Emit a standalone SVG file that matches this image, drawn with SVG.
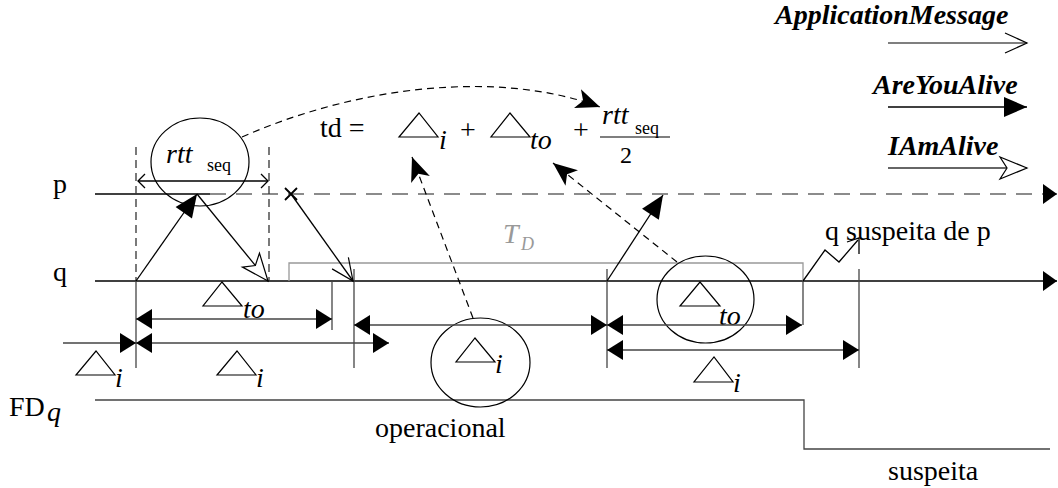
<svg xmlns="http://www.w3.org/2000/svg" width="1058" height="488" viewBox="0 0 1058 488">
<style>
text{font-family:"Liberation Serif","Times New Roman",serif;font-size:28px;fill:#000}
.it{font-style:italic}
.bi{font-style:italic;font-weight:bold}
.sm{font-size:18px}
.gr{fill:#999}
.ln{stroke:#000;stroke-width:1.3;fill:none}
.dim{stroke:#444;stroke-width:1.3;fill:none}
.tri{stroke:#000;stroke-width:1.2;fill:none}
.vd{stroke:#333;stroke-width:1.3;stroke-dasharray:8 5;fill:none}
.da{stroke:#000;stroke-width:1.2;stroke-dasharray:7 5;fill:none}
</style>
<defs>
<marker id="dh" markerUnits="userSpaceOnUse" orient="auto-start-reverse" viewBox="-18 -11 20 22" markerWidth="20" markerHeight="22" refX="0" refY="0"><path d="M0,0 L-16,-10 L-16,10 Z" fill="#000"/></marker>
<marker id="ah" markerUnits="userSpaceOnUse" orient="auto" viewBox="-16 -11 18 22" markerWidth="18" markerHeight="22" refX="0" refY="0"><path d="M0,0 L-14,-10 L-14,10 Z" fill="#000"/></marker>
<marker id="fh" markerUnits="userSpaceOnUse" orient="auto" viewBox="-25 -11 27 22" markerWidth="27" markerHeight="22" refX="0" refY="0"><path d="M0,0 L-23,-10 L-23,10 Z" fill="#000"/></marker>
<marker id="sh" markerUnits="userSpaceOnUse" orient="auto" viewBox="-26 -11 28 22" markerWidth="28" markerHeight="22" refX="0" refY="0"><path d="M0,0 L-24,-10 L-18,0 L-24,10 Z" fill="#000"/></marker>
<marker id="ov" markerUnits="userSpaceOnUse" orient="auto" viewBox="-25 -12 27 24" markerWidth="27" markerHeight="24" refX="0" refY="0"><path d="M-22,-10 L0,0 L-22,10" fill="none" stroke="#000" stroke-width="1.2"/></marker>
<marker id="ot" markerUnits="userSpaceOnUse" orient="auto" viewBox="-30 -13 32 26" markerWidth="32" markerHeight="26" refX="0" refY="0"><path d="M0,0 L-27,-11 L-20,0 L-27,11 Z" fill="#fff" stroke="#000" stroke-width="1.2"/></marker>
</defs>

<g id="legend">
<g id="legend-app">
<text class="bi" x="775" y="24">ApplicationMessage</text>
<line x1="888" y1="43" x2="1027" y2="43" stroke="#555" stroke-width="1.6" marker-end="url(#ov)"/>
</g>
<g id="legend-aya">
<text class="bi" x="873" y="94">AreYouAlive</text>
<line x1="888" y1="107" x2="1027" y2="107" stroke="#000" stroke-width="1.3" marker-end="url(#fh)"/>
</g>
<g id="legend-iaa">
<text class="bi" x="888" y="155">IAmAlive</text>
<line x1="888" y1="168" x2="1027" y2="168" stroke="#666" stroke-width="2" marker-end="url(#ot)"/>
</g>
</g>

<g id="timelines">
<g id="p-line">
<text x="53" y="193">p</text>
<line x1="95" y1="194" x2="210" y2="194" class="ln"/>
<line x1="210" y1="194" x2="1057" y2="194" stroke="#666" stroke-width="1.6" stroke-dasharray="16 10" marker-end="url(#ah)"/>
</g>
<g id="q-line">
<text x="53" y="281">q</text>
<line x1="95" y1="281" x2="1057" y2="281" class="ln" marker-end="url(#ah)"/>
</g>
<g id="fd-line">
<text x="9" y="416">FD</text><text class="it" x="47" y="421">q</text>
<polyline points="95,400 804,400 804,449 1050,449" class="dim"/>
<text x="375" y="437">operacional</text>
<text x="888" y="480">suspeita</text>
</g>
</g>

<g id="rtt-node">
<ellipse cx="200" cy="162" rx="49" ry="44" class="tri"/>
<text class="it" x="166" y="163">rtt</text><text class="sm" x="207" y="171">seq</text>
<line x1="138" y1="181" x2="268" y2="181" class="ln"/>
<path d="M145,174 L138,181 L145,188 M261,174 L268,181 L261,188" class="ln"/>
<line x1="136" y1="147" x2="136" y2="281" class="vd"/>
<line x1="269" y1="147" x2="269" y2="281" class="vd"/>
</g>

<g id="formula">
<text x="320" y="137">td =</text>
<polygon points="399,137 438,137 419,113" class="tri"/>
<text class="it" x="439" y="149">i</text>
<text x="460" y="139">+</text>
<polygon points="491,137 530,137 510,113" class="tri"/>
<text class="it" x="530" y="149">to</text>
<text x="573" y="139">+</text>
<text class="it" x="602" y="124">rtt</text><text class="sm" x="635" y="134">seq</text>
<line x1="600" y1="137" x2="670" y2="137" stroke="#000" stroke-width="1.2"/>
<text x="620" y="163" style="font-size:24px">2</text>
</g>

<g id="td-box">
<polyline points="289,281 289,263 803,263 803,281" stroke="#999" stroke-width="1.3" fill="none"/>
<text class="it gr" x="503" y="243">T</text><text class="it gr sm" x="521" y="250">D</text>
</g>

<g id="di-circle">
<ellipse cx="480.5" cy="362.5" rx="49.5" ry="44.5" class="tri"/>
<polygon points="456,362 495,362 475,338" class="tri"/>
<text class="it" x="495" y="373">i</text>
</g>

<g id="dto-circle">
<ellipse cx="705.5" cy="299.5" rx="48.5" ry="43.5" class="tri"/>
<polygon points="680,306 720,306 700,282" class="tri"/>
<text class="it" x="719" y="325">to</text>
</g>

<g id="dim-labels">
<polygon points="203,306 242,306 222,282" class="tri"/>
<text class="it" x="243" y="318">to</text>
<polygon points="76,375 115,375 96,351" class="tri"/>
<text class="it" x="115" y="387">i</text>
<polygon points="217,375 256,375 237,351" class="tri"/>
<text class="it" x="256" y="387">i</text>
<polygon points="694,382 733,382 714,357" class="tri"/>
<text class="it" x="733" y="392">i</text>
<text x="825" y="240">q suspeita de p</text>
</g>

<g id="connectors">
<line x1="136" y1="281" x2="136" y2="368" class="dim"/>
<line x1="332" y1="281" x2="332" y2="330" class="dim"/>
<line x1="354" y1="269" x2="354" y2="368" class="dim"/>
<line x1="607" y1="269" x2="607" y2="368" class="dim"/>
<line x1="803" y1="281" x2="803" y2="325" class="dim"/>
<line x1="859" y1="269" x2="859" y2="368" class="dim"/>
<line x1="136" y1="319" x2="332" y2="319" class="dim" marker-start="url(#dh)" marker-end="url(#dh)"/>
<line x1="63" y1="343" x2="136" y2="343" class="dim" marker-end="url(#dh)"/>
<line x1="136" y1="343" x2="389" y2="343" class="dim" marker-start="url(#dh)" marker-end="url(#dh)"/>
<line x1="354" y1="325" x2="607" y2="325" class="dim" marker-start="url(#dh)" marker-end="url(#dh)"/>
<line x1="607" y1="325" x2="802" y2="325" class="dim" marker-start="url(#dh)" marker-end="url(#dh)"/>
<line x1="607" y1="350" x2="859" y2="350" class="dim" marker-start="url(#dh)" marker-end="url(#dh)"/>
<line x1="136" y1="281" x2="197" y2="194" class="ln" marker-end="url(#fh)"/>
<line x1="197" y1="194" x2="268" y2="281" class="ln" marker-end="url(#ot)"/>
<path d="M285,188 L297,200 M297,188 L285,200" stroke="#000" stroke-width="1.8"/>
<line x1="291" y1="194" x2="353" y2="281" class="ln" marker-end="url(#ov)"/>
<line x1="607" y1="281" x2="663" y2="195" class="ln" marker-end="url(#fh)"/>
<path d="M803,281 L825,250 L839,262 L858,240" class="ln"/>
<path d="M847,242 L859,238 L859,254" class="ln"/>
<path d="M242,137 C360,85 500,70 600,107" class="da" marker-end="url(#sh)"/>
<line x1="473" y1="318" x2="412" y2="157" class="da" marker-end="url(#sh)"/>
<line x1="677" y1="262" x2="553" y2="163" class="da" marker-end="url(#sh)"/>
</g>
</svg>
